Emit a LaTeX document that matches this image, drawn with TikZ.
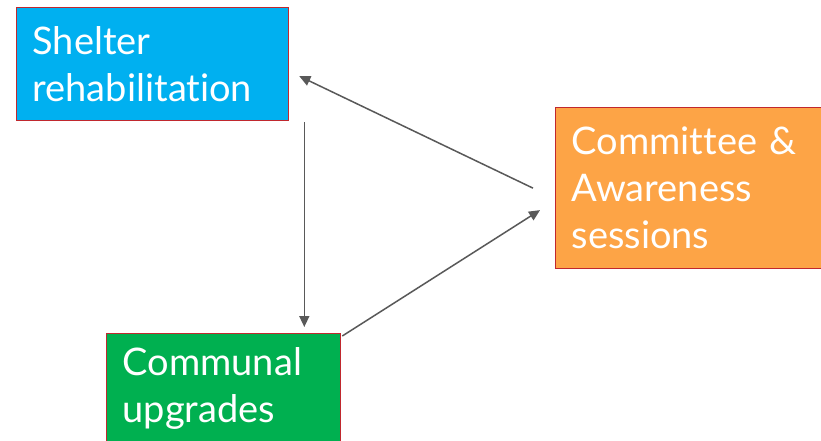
\documentclass[tikz,border=0pt]{standalone}
\usepackage{fontspec}
\setmainfont{Lato}[Ligatures={NoCommon}]
\usetikzlibrary{arrows.meta,calc}
\definecolor{cyanbox}{HTML}{00B0F0}
\definecolor{orangebox}{HTML}{FDA446}
\definecolor{greenbox}{HTML}{00B050}
\definecolor{boxborder}{HTML}{C0282E}
\definecolor{arrowgray}{HTML}{595959}
\tikzset{
  box/.style={draw=boxborder, line width=1.3pt, anchor=north west, align=left,
    text=white, inner xsep=15pt, inner ysep=0pt,
    font={\fontsize{38}{47}\selectfont}},
  conn/.style={draw=arrowgray, line width=1.5pt, -{Triangle[length=11pt,width=10pt]}}
}
\begin{document}
\begin{tikzpicture}[x=1pt,y=-1pt]
\useasboundingbox[fill=white] (0,0) rectangle (821,441);
\node[box, fill=cyanbox, minimum width=272, minimum height=113, text width=240] (shelter) at (16,7) {Shelter\\rehabilitation};
\node[box, fill=orangebox, minimum width=275, minimum height=161, text width=243] (committee) at (555,107) {Committee \&\\Awareness\\sessions};
\node[box, fill=greenbox, minimum width=234, minimum height=110, text width=202] (communal) at (106,333) {Communal\\upgrades};
\coordinate (a1s) at ($(committee.west)+(-22,0)$);
\coordinate (a1e) at ($(shelter.east)+(10,12)$);
\coordinate (a2s) at ($(shelter.south east)+(15,1)$);
\coordinate (a2e) at ($(communal.north east)+(-37,-6)$);
\coordinate (a3s) at ($(communal.north east)+(1,3)$);
\coordinate (a3e) at ($(committee.west)+(-15,22)$);
\draw[conn] (a1s) -- (a1e);
\draw[conn] (a2s) -- (a2e);
\draw[conn] (a3s) -- (a3e);
\end{tikzpicture}
\end{document}
